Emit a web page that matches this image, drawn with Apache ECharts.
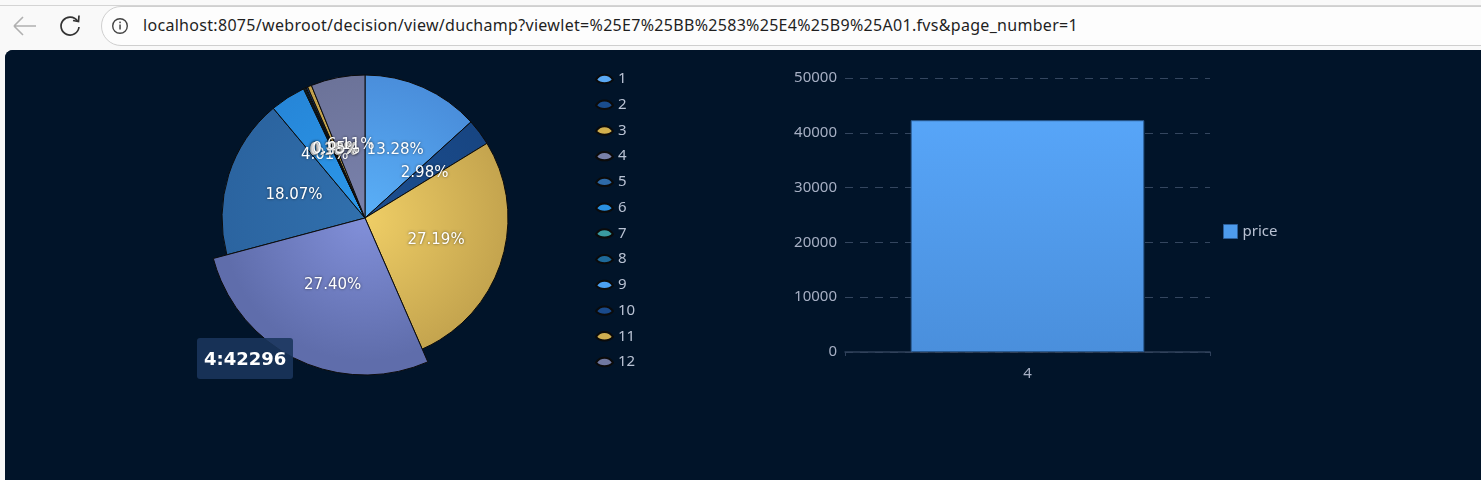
<!DOCTYPE html>
<html>
<head>
<meta charset="utf-8">
<script src="https://cdn.jsdelivr.net/npm/echarts@6/dist/echarts.min.js"></script>
<style>
html,body{margin:0;padding:0;width:1481px;height:480px;overflow:hidden;background:#f7f7f7;font-family:"Noto Sans","Open Sans",sans-serif;}
#topbar{position:absolute;left:0;top:0;width:1481px;height:50px;background:#f9f9f9;}
#topline{position:absolute;left:0;top:5px;width:1481px;height:1px;background:#d4d4d4;}
#pill{position:absolute;left:101px;top:6px;width:1400px;height:38px;border:1px solid #cfcfcf;border-radius:20px;background:#fdfdfd;}
#url{position:absolute;left:143px;top:14px;font-size:16px;line-height:22px;color:#1f1f1f;white-space:nowrap;font-family:"Noto Sans","Open Sans",sans-serif;}
#icons{position:absolute;left:0;top:0;}
#page{position:absolute;left:5px;top:50px;width:1476px;height:430px;border-top-left-radius:8px;overflow:hidden;background:#011429;}
#chart{width:1476px;height:430px;}
</style>
</head>
<body>
<div id="topbar"></div>
<div id="topline"></div>
<div id="pill"></div>
<svg id="icons" width="140" height="50">
  <path d="M14 26 H36 M14 26 L23 17 M14 26 L23 35" stroke="#b0b0b0" stroke-width="1.6" fill="none"/>
  <path d="M77.5 21 A9 9 0 1 0 79 27" stroke="#333" stroke-width="1.7" fill="none"/>
  <path d="M73 20.5 L78.5 21.5 L79 15.5" stroke="#333" stroke-width="1.7" fill="none"/>
  <circle cx="120" cy="26" r="7.3" stroke="#444" stroke-width="1.4" fill="none"/>
  <rect x="119.3" y="24.5" width="1.5" height="5" fill="#444"/>
  <rect x="119.3" y="21.6" width="1.5" height="1.6" fill="#444"/>
</svg>
<div id="url">localhost:8075/webroot/decision/view/duchamp?viewlet=%25E7%25BB%2583%25E4%25B9%25A01.fvs&amp;page_number=1</div>
<div id="page"><div id="chart"></div></div>
<script>
// ---- data ----
var categories = ['1','2','3','4','5','6','7','8','9','10','11','12'];
var values = [20500, 4600, 41972, 42296, 27894, 6190, 150, 200, 150, 281, 700, 9432];
var barCategories = ['4'];
var barValues = [42296];
var barSeriesName = 'price';
var yTicks = [0, 10000, 20000, 30000, 40000, 50000];
var sliceColors = [
  ['#5ab0f8','#4a8edb'], ['#1d4f90','#174582'], ['#efce66','#c4a44e'], ['#8290da','#5f6dab'],
  ['#3170ad','#2b64a0'], ['#2c98ea','#2686d8'], ['#3fa3a8','#2f8c92'], ['#23719f','#1d6590'],
  ['#55a8f5','#4a95e6'], ['#1d4f90','#174582'], ['#d4b356','#c1a04b'], ['#7a82ac','#6c7399']
];
var legendColors = ['#5aa8f2','#1a4c8c','#d2b04e','#7880a8','#2e6aa8','#2a90e0','#3a9aa0','#1e6a9a','#4ca0f0','#1a4a8a','#cfae50','#7078a0'];

(function(){
  var u = document.getElementById('url');
  var target = 935;
  var w = u.getBoundingClientRect().width;
  var n = u.textContent.length;
  u.style.letterSpacing = ((target - w) / n) + 'px';
})();

var chart = echarts.init(document.getElementById('chart'), null, {renderer:'canvas'});
var cx = 360, cy = 168, R = 143;
function grad(i){
  return new echarts.graphic.RadialGradient(cx, cy, R, [
    {offset:0, color: sliceColors[i][0]},
    {offset:1, color: sliceColors[i][1]}
  ], true);
}
var pieData = categories.map(function(c, i){
  return {
    name: c,
    value: values[i],
    itemStyle: {color: grad(i)},
    emphasis: {itemStyle: {color: grad(i)}}
  };
});
function pct(p){ return p.percent.toFixed(2) + '%'; }
var labelFont = {color:'#ffffff', fontFamily:'DejaVu Sans', fontSize:15,
  textShadowColor:'rgba(0,0,0,0.6)', textShadowBlur:3, textBorderWidth:0};

var option = {
  backgroundColor: '#011429',
  animation: false,
  tooltip: {
    trigger: 'item',
    triggerOn: 'none',
    alwaysShowContent: true,
    transitionDuration: 0,
    position: [192, 288],
    backgroundColor: 'rgba(26,54,92,0.88)',
    borderWidth: 0,
    borderRadius: 3,
    padding: [7, 7],
    extraCssText: 'box-shadow:none;',
    textStyle: {color:'#ffffff', fontFamily:'DejaVu Sans', fontWeight:'bold', fontSize:18},
    formatter: function(p){ return p.name + ':' + p.value; }
  },
  legend: [{
    orient: 'vertical',
    left: 590,
    top: 21.5,
    padding: 0,
    itemGap: 10.73,
    itemWidth: 17,
    itemHeight: 10,
    icon: 'path://M0,5 C4,-1 12,-1 16,5 C12,9.5 4,9.5 0,5 Z',
    textStyle: {color:'#b9c2d3', fontSize:15, fontFamily:'Noto Sans', lineHeight:15},
    data: categories.map(function(c,i){ return {name:c, itemStyle:{color:legendColors[i]}}; }),
    selectedMode: false
  },{
    orient: 'vertical',
    left: 1218,
    top: 174,
    padding: 0,
    itemWidth: 14,
    itemHeight: 14,
    icon: 'rect',
    textStyle: {color:'#b9c2d3', fontSize:15, fontFamily:'Noto Sans'},
    data: [{name: barSeriesName, itemStyle:{color:'#4d9bec', borderColor:'#2c5e98', borderWidth:1}}],
    selectedMode: false
  }],
  grid: {left: 840, right: 271, top: 28, bottom: 128, containLabel: false},
  xAxis: {
    type: 'category',
    data: barCategories,
    axisLine: {lineStyle:{color:'#2f405a', width:1.5}},
    axisTick: {show:true, length:4, lineStyle:{color:'#2f405a'}},
    axisLabel: {color:'#a6afc3', fontSize:15, fontFamily:'Noto Sans', margin:14}
  },
  yAxis: {
    type: 'value',
    min: yTicks[0],
    max: yTicks[yTicks.length-1],
    interval: yTicks[1]-yTicks[0],
    axisLine: {show:false},
    axisTick: {show:false},
    axisLabel: {color:'#a6afc3', fontSize:15, fontFamily:'Noto Sans', margin:8,
      formatter: function(v){ return String(v); }},
    splitLine: {lineStyle:{color:'#34465f', type:[8,7], width:1}}
  },
  series: [{
    type: 'pie',
    name: 'pie',
    center: [cx, cy],
    radius: [0, R],
    startAngle: 90,
    clockwise: true,
    avoidLabelOverlap: false,
    minShowLabelAngle: 0,
    selectedMode: false,
    itemStyle: {borderColor:'#0b0b0b', borderWidth:1},
    label: Object.assign({show:true, position:'inside', formatter: pct}, labelFont),
    labelLine: {show:false},
    emphasis: {scale:true, scaleSize:14, label: Object.assign({show:true, formatter: pct}, labelFont)},
    data: pieData
  },{
    type: 'bar',
    name: barSeriesName,
    data: barValues,
    barWidth: '64%',
    itemStyle: {
      color: new echarts.graphic.LinearGradient(0,0,0,1,[
        {offset:0, color:'#57a5f8'},{offset:1, color:'#4a8fdc'}
      ]),
      borderColor:'#2a5b92', borderWidth:1
    },
    emphasis: {disabled:true}
  }]
};
chart.setOption(option);
chart.dispatchAction({type:'highlight', seriesIndex:0, dataIndex:3});
chart.dispatchAction({type:'showTip', seriesIndex:0, dataIndex:3});

// The reference shows every inside label, even those of the thinnest slices:
// un-hide the library's own labels that it hid for tiny sectors.
function showAllPieLabels(){
  var zr = chart.getZr();
  var changed = false;
  zr.storage.getRoots().forEach(function walk(el){
    if (el.type === 'sector' && el.getTextContent) {
      var t = el.getTextContent();
      if (t && t.ignore) { t.ignore = false; t.markRedraw(); changed = true; }
    }
    if (el.childrenRef) el.childrenRef().forEach(walk);
  });
  if (changed) zr.refreshImmediately();
}
showAllPieLabels();
chart.on('finished', showAllPieLabels);
</script>
</body>
</html>
